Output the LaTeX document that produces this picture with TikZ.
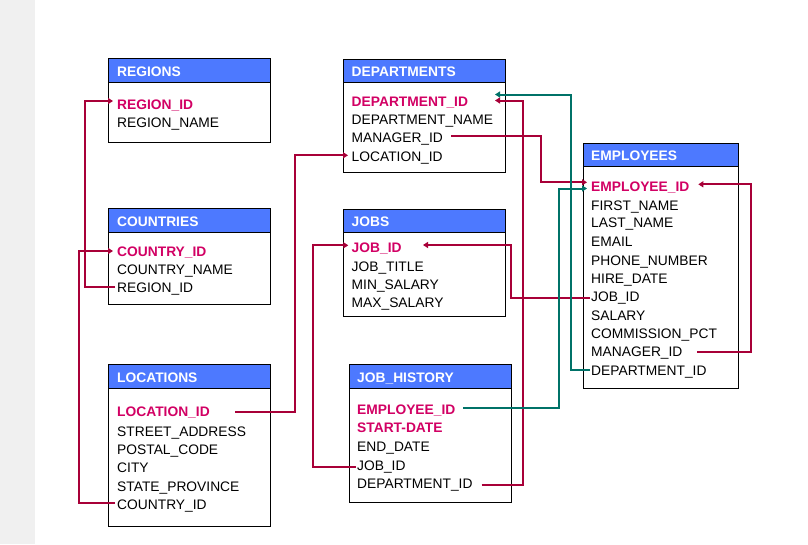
\documentclass[tikz,border=0pt]{standalone}
\usepackage{fontspec}
\setmainfont{Liberation Sans}
\usetikzlibrary{arrows.meta,calc}
\definecolor{hdrblue}{RGB}{77,121,255}
\definecolor{pkred}{RGB}{210,0,100}
\definecolor{fkred}{RGB}{168,0,56}
\definecolor{fkteal}{RGB}{0,114,104}
\definecolor{strip}{RGB}{240,240,240}
\begin{document}
\begin{tikzpicture}[x=1pt,y=-1pt,
  tbl/.style={draw=black, line width=1pt, fill=white, anchor=north west, inner sep=0pt, minimum width=162pt},
  hdr/.style={draw=black, line width=1pt, fill=hdrblue, anchor=north west, inner sep=0pt, minimum width=162pt, minimum height=24pt},
  htxt/.style={anchor=base west, inner sep=0pt, font=\fontsize{13.8}{16}\selectfont\bfseries, text=white},
  fld/.style={anchor=base west, inner sep=0pt, font=\fontsize{13.8}{16}\selectfont},
  pkf/.style={anchor=base west, inner sep=0pt, font=\fontsize{13.8}{16}\selectfont\bfseries, text=pkred},
  fk/.style={draw=fkred, line width=2pt, -{Triangle[length=5pt,width=6pt]}},
  fkt/.style={fk, draw=fkteal}]
\fill[white] (0,0) rectangle (808,544);
\useasboundingbox (0,0) rectangle (808,544);
\fill[strip] (0,0) rectangle (35,544);

% REGIONS
\node[tbl, minimum height=84pt] (regions) at (108,58.3) {};
\node[hdr] (regions-h) at (108,58.3) {};
\node[htxt] (regions-t) at (117,76) {REGIONS};
\node[pkf] (reg-id) at (117,109.3) {REGION\_ID};
\node[fld] (reg-name) at (117,127.3) {REGION\_NAME};

% COUNTRIES
\node[tbl, minimum height=96pt] (countries) at (108,208.3) {};
\node[hdr] (countries-h) at (108,208.3) {};
\node[htxt] (countries-t) at (117,226) {COUNTRIES};
\node[pkf] (cou-id) at (117,256) {COUNTRY\_ID};
\node[fld] (cou-name) at (117,274.3) {COUNTRY\_NAME};
\node[fld] (cou-reg) at (117,292.7) {REGION\_ID};

% LOCATIONS
\node[tbl, minimum height=161.7pt] (locations) at (108,364.3) {};
\node[hdr] (locations-h) at (108,364.3) {};
\node[htxt] (locations-t) at (117,382) {LOCATIONS};
\node[pkf] (loc-id) at (117,416.7) {LOCATION\_ID};
\node[fld] (loc-str) at (117,436) {STREET\_ADDRESS};
\node[fld] (loc-post) at (117,454.3) {POSTAL\_CODE};
\node[fld] (loc-city) at (117,472.7) {CITY};
\node[fld] (loc-state) at (117,491) {STATE\_PROVINCE};
\node[fld] (loc-cou) at (117,509) {COUNTRY\_ID};

% DEPARTMENTS
\node[tbl, minimum height=113.6pt] (departments) at (342.7,58.7) {};
\node[hdr, minimum height=23.6pt] (departments-h) at (342.7,58.7) {};
\node[htxt] (departments-t) at (351.5,76.5) {DEPARTMENTS};
\node[pkf] (dep-id) at (351.5,106) {DEPARTMENT\_ID};
\node[fld] (dep-name) at (351.5,124.3) {DEPARTMENT\_NAME};
\node[fld] (dep-mgr) at (351.5,142.3) {MANAGER\_ID};
\node[fld] (dep-loc) at (351.5,161) {LOCATION\_ID};

% JOBS
\node[tbl, minimum height=107.6pt] (jobs) at (342.7,208.7) {};
\node[hdr, minimum height=23.6pt] (jobs-h) at (342.7,208.7) {};
\node[htxt] (jobs-t) at (351.5,226.5) {JOBS};
\node[pkf] (job-id) at (351.5,252.7) {JOB\_ID};
\node[fld] (job-title) at (351.5,271) {JOB\_TITLE};
\node[fld] (job-min) at (351.5,289.3) {MIN\_SALARY};
\node[fld] (job-max) at (351.5,307.7) {MAX\_SALARY};

% JOB_HISTORY
\node[tbl, minimum height=138pt] (jobhistory) at (348.7,364.3) {};
\node[hdr] (jobhistory-h) at (348.7,364.3) {};
\node[htxt] (jobhistory-t) at (357,382) {JOB\_HISTORY};
\node[pkf] (jh-emp) at (357,414) {EMPLOYEE\_ID};
\node[pkf] (jh-start) at (357,432.7) {START-DATE};
\node[fld] (jh-end) at (357,451) {END\_DATE};
\node[fld] (jh-job) at (357,470) {JOB\_ID};
\node[fld] (jh-dep) at (357,488.3) {DEPARTMENT\_ID};

% EMPLOYEES
\node[tbl, minimum width=155.6pt, minimum height=245.6pt] (employees) at (582.7,142.7) {};
\node[hdr, minimum width=155.6pt, minimum height=23.6pt] (employees-h) at (582.7,142.7) {};
\node[htxt] (employees-t) at (591,160.5) {EMPLOYEES};
\node[pkf] (emp-id) at (591,191) {EMPLOYEE\_ID};
\node[fld] (emp-first) at (591,210) {FIRST\_NAME};
\node[fld] (emp-last) at (591,227.7) {LAST\_NAME};
\node[fld] (emp-email) at (591,246) {EMAIL};
\node[fld] (emp-phone) at (591,265) {PHONE\_NUMBER};
\node[fld] (emp-hire) at (591,283) {HIRE\_DATE};
\node[fld] (emp-job) at (591,301.7) {JOB\_ID};
\node[fld] (emp-sal) at (591,320) {SALARY};
\node[fld] (emp-comm) at (591,338) {COMMISSION\_PCT};
\node[fld] (emp-mgr) at (591,356.7) {MANAGER\_ID};
\node[fld] (emp-dep) at (591,375) {DEPARTMENT\_ID};

% connectors
\draw[fk] ($(cou-reg.base west)+(-2,-5.7)$) -- ++(-30,0) |- ($(reg-id.base west)+(-4,-8.3)$);
\draw[fk] ($(loc-cou.base west)+(-2,-5.7)$) -- ++(-36,0) |- ($(cou-id.base west)+(-4,-5)$);
\draw[fk] ($(loc-id.base west)+(118,-4.7)$) -- ++(60,0) |- ($(dep-loc.base west)+(-3.5,-5.7)$);
\draw[fk] ($(jh-job.base west)+(-1.5,-3.5)$) -- ++(-42.5,0) |- ($(job-id.base west)+(-3.2,-7.4)$);
\draw[fk] ($(emp-job.base west)+(-1,-3.5)$) -- ++(-79,0) |- ($(job-id.base west)+(71.5,-7.7)$);
\draw[fk] ($(dep-mgr.base west)+(99.5,-6)$) -- ++(90,0) |- ($(emp-id.base west)+(-4,-8.7)$);
\draw[fk] ($(emp-mgr.base west)+(106.3,-4.4)$) -- ++(53.4,0) |- ($(emp-id.base west)+(107.3,-6.7)$);
\draw[fk] ($(jh-dep.base west)+(124.7,-3.3)$) -- ++(41,0) |- ($(dep-id.base west)+(143.5,-5.5)$);
\draw[fkt] ($(emp-dep.base west)+(-1,-5)$) -- ++(-19.3,0) |- ($(dep-id.base west)+(143.5,-11.5)$);
\draw[fkt] ($(jh-emp.base west)+(106.3,-5.7)$) -- ++(96,0) |- ($(emp-id.base west)+(-4,-2.5)$);
\end{tikzpicture}
\end{document}
